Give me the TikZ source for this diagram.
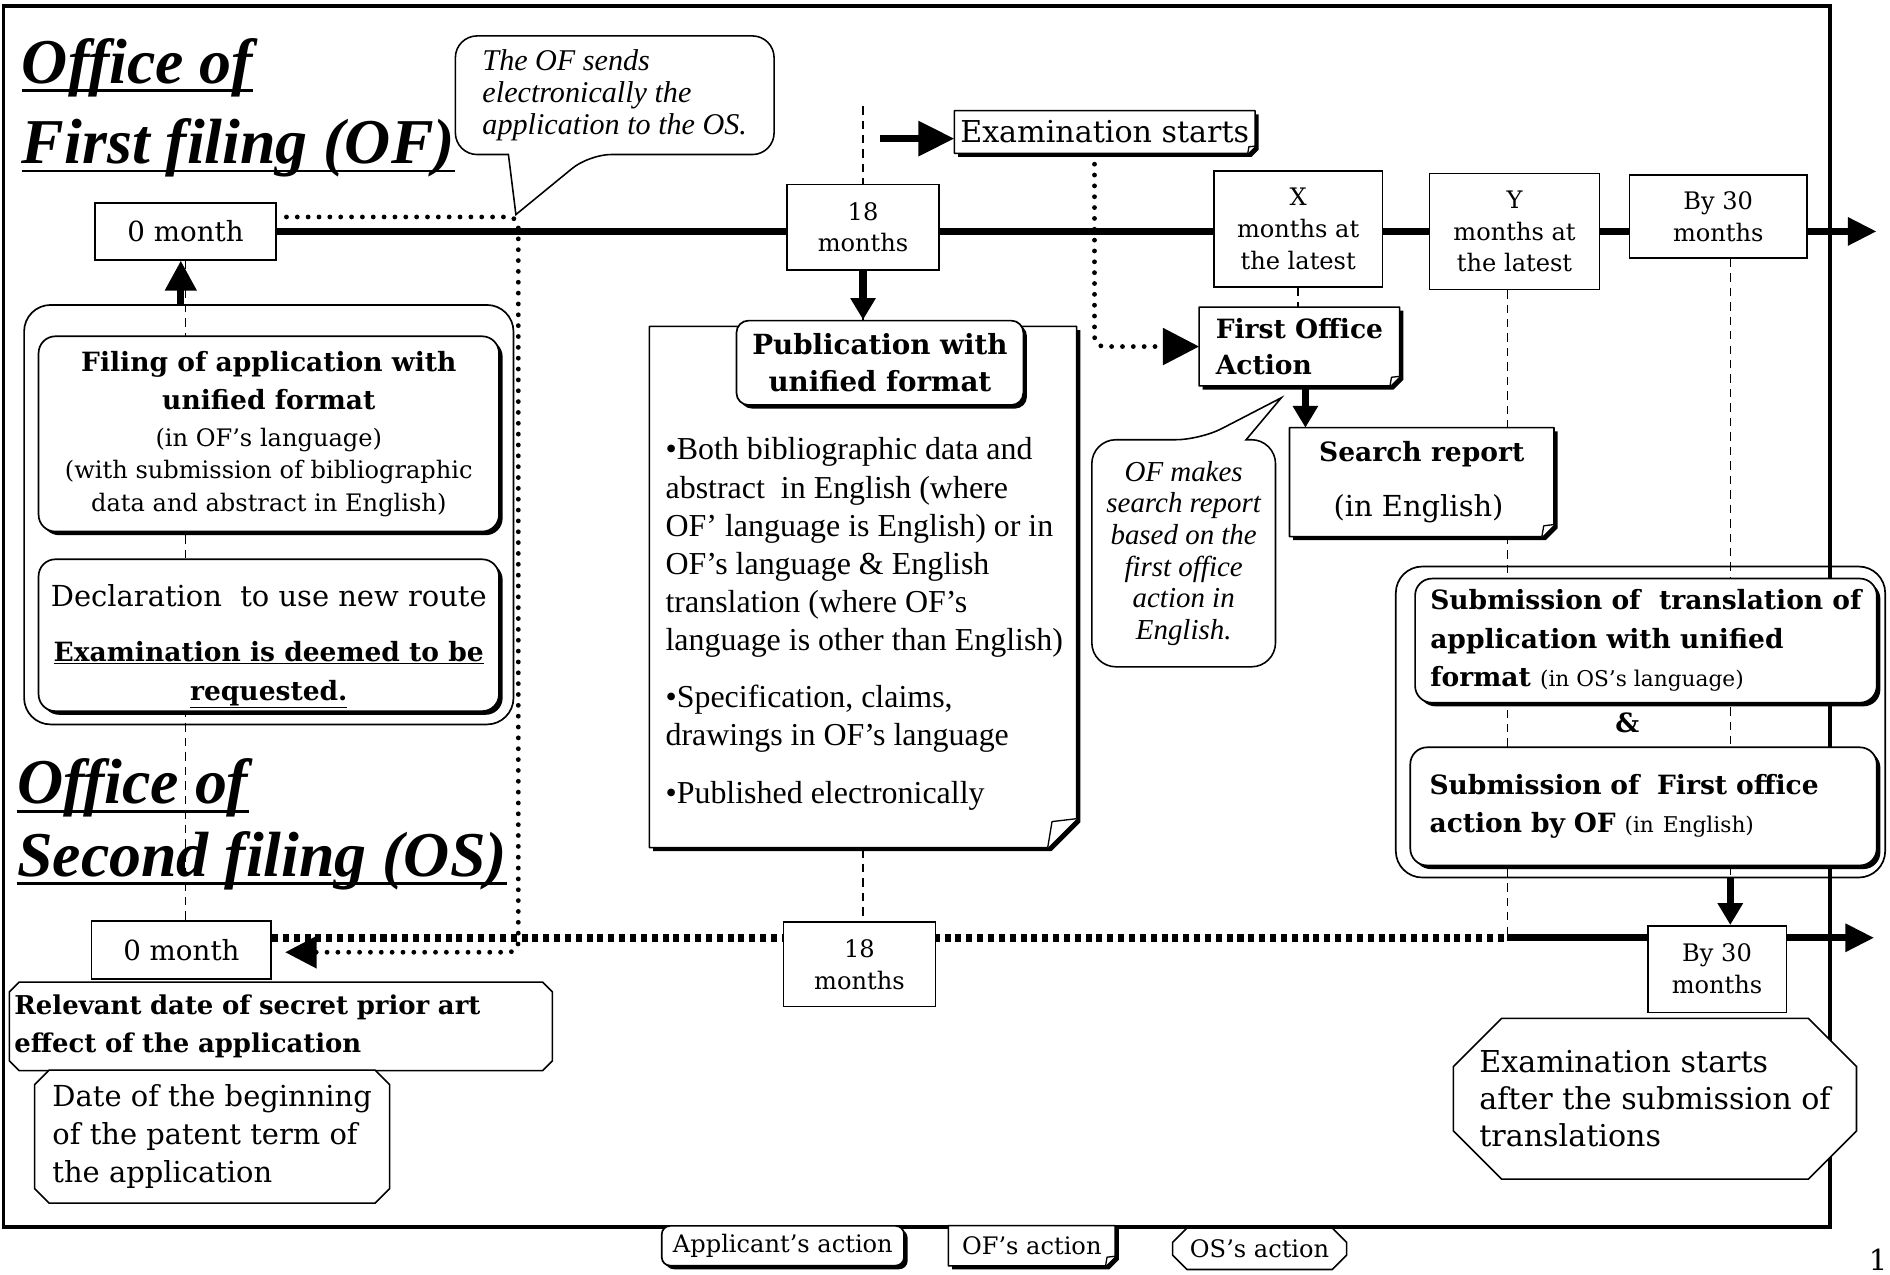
\documentclass[tikz,border=0pt]{standalone}
\usepackage{fontspec}
\setmainfont{DejaVu Serif}
\newfontfamily\tms{Liberation Serif}
\usetikzlibrary{arrows.meta,shadows,calc}
\pgfdeclarelayer{bg}
\pgfdeclarelayer{mid}
\pgfsetlayers{bg,mid,main}
\newcommand\fs[2]{\fontsize{#1}{#2}\selectfont}
\newcommand\ofshape[2]{\begin{pgfonlayer}{mid}
\fill ([shift={(3pt,-3pt)}]#1.north west) -- ([shift={(3pt,-3pt)}]#1.north east) -- ([shift={(3pt,#2-3pt)}]#1.south east) -- ([shift={(3pt-#2,-3pt)}]#1.south east) -- ([shift={(3pt,-3pt)}]#1.south west) -- cycle;
\filldraw[fill=white,line width=1.3pt,line join=round] (#1.north west) -- (#1.north east) -- ([yshift=#2]#1.south east) -- ([xshift=-#2]#1.south east) -- (#1.south west) -- cycle;
\filldraw[fill=white,line width=1.1pt,line join=round] ([xshift=-#2]#1.south east) -- ([shift={(-0.85*#2,0.9*#2)}]#1.south east) -- ([yshift=#2]#1.south east);
\end{pgfonlayer}}
\newcommand\osshape[2]{\begin{pgfonlayer}{mid}
\filldraw[fill=white,line width=1.3pt] ([xshift=#2]#1.north west) -- ([xshift=-#2]#1.north east) -- ([yshift=-#2]#1.north east) -- ([yshift=#2]#1.south east) -- ([xshift=-#2]#1.south east) -- ([xshift=#2]#1.south west) -- ([yshift=#2]#1.south west) -- ([yshift=-#2]#1.north west) -- cycle;
\end{pgfonlayer}}
\begin{document}
\begin{tikzpicture}[x=1pt,y=-1pt,
  every node/.style={inner sep=0pt},
  tbox/.style={draw, line width=1.3pt, fill=white, align=center, font=\fs{20}{26.5}},
  appbox/.style={draw, line width=1.4pt, fill=white, rounded corners=#1, drop shadow={shadow xshift=3pt,shadow yshift=-3pt,fill=black,opacity=1}},
  appbox/.default=14pt,
  grp/.style={draw, line width=1.4pt, rounded corners=22pt},
  titlef/.style={anchor=base west, font=\tms\bfseries\itshape\fs{53}{60}},
  uline/.style={line width=2.2pt},
  bigarrow/.style={line width=6pt, -{Triangle[length=25pt,width=25pt]}},
  midarrow/.style={line width=6pt, -{Triangle[length=18pt,width=20pt]}},
  dots/.style={line width=4pt, line cap=round, dash pattern=on 0pt off 9pt},
  sqdots/.style={line width=7pt, dash pattern=on 5pt off 4pt},
  dashv/.style={line width=1.2pt, dash pattern=on 7pt off 5pt}]
\useasboundingbox (0,0) rectangle (1568,1057);

% ---- timeline boxes (top) ----
\node[tbox, minimum width=150pt, minimum height=47pt, font=\fs{23}{28}] (OF0) at (154,192) {0 month};
\node[tbox, minimum width=126pt, minimum height=71pt] (OF18) at (716,188.5) {18\\months};
\node[tbox, minimum width=140pt, minimum height=96pt] (OFX) at (1077,190) {X\\months at\\the latest};
\node[tbox, minimum width=141pt, minimum height=96pt] (OFY) at (1256.5,192) {Y\\months at\\the latest};
\node[tbox, minimum width=147pt, minimum height=69pt] (OF30) at (1425.5,179.5) {By 30\\months};

\node[minimum width=249pt, minimum height=35pt, font=\fs{25}{30}] (EX) at (916.5,109.5) {Examination starts};
\ofshape{EX}{6pt}

% ---- titles ----
\node[titlef] (T1) at (18,69) {Office of};
\node[titlef] (T2) at (18,136) {First filing (OF)};
\node[titlef] (T3) at (14,667) {Office of};
\node[titlef] (T4) at (14,727) {Second filing (OS)};
\foreach \t in {T1,T2,T3,T4}{\draw[uline] ([yshift=-6pt]\t.base west) -- ([yshift=-6pt]\t.base east);}

% ---- callout 1 ----
\node[minimum width=264pt, minimum height=98pt, align=left, font=\tms\itshape\fs{25}{26.5}] (C1) at (510,79) {The OF sends\\electronically the\\application to the OS.};
\coordinate (tip1) at (428,178);
\begin{pgfonlayer}{mid}
\filldraw[fill=white,line width=1.3pt] ([xshift=44pt]C1.south west) [rounded corners=18pt] -- (C1.south west) -- (C1.north west) -- (C1.north east) -- (C1.south east) -- ([xshift=111pt]C1.south west) [sharp corners] -- (tip1) -- cycle;
\end{pgfonlayer}

% ---- left group ----
\node[grp, minimum width=406pt, minimum height=348pt] (LG) at (223,427) {};
\node[appbox, minimum width=382pt, minimum height=162pt] (LB1) at (223,360) {\begin{minipage}{380pt}\centering\fs{22}{32}\bfseries Filing of application with\\unified format\par\mdseries\fs{20}{27}\vspace{3pt}(in OF’s language)\\(with submission of bibliographic\\data and abstract in English)\end{minipage}};
\node[appbox, minimum width=382pt, minimum height=126pt] (LB2) at (223,527) {\begin{minipage}{380pt}\vspace*{18pt}\centering\fs{24}{30}Declaration~ to use new route\par\vspace{14pt}\fs{22}{32}\bfseries\underline{Examination is deemed to be}\\\underline{requested.}\end{minipage}};

% ---- OS start ----
\node[tbox, minimum width=149pt, minimum height=48pt, font=\fs{23}{28}] (OS0) at (150.5,788) {0 month};
\node[minimum width=450pt, minimum height=73pt, text width=442pt, align=left, font=\fs{21.5}{31}\bfseries] (RD) at (233,851.5) {Relevant date of secret prior art\\effect of the application};
\osshape{RD}{8pt}
\node[minimum width=294pt, minimum height=110pt, align=left, font=\fs{24}{31.5}] (DB) at (176,943) {Date of the beginning\\of the patent term of\\the application};
\osshape{DB}{12pt}

% ---- publication ----
\node[minimum width=354pt, minimum height=432pt] (PD) at (716,487) {};
\ofshape{PD}{24pt}
\node[anchor=north west, align=left, font=\tms\fs{26.5}{31.6}] (PB) at (552,363) {•Both bibliographic data and\\abstract~ in English (where\\OF’ language is English) or in\\OF’s language \& English\\translation (where OF’s\\language is other than English)\\[16pt]•Specification, claims,\\drawings in OF’s language\\[16pt]•Published electronically};
\node[appbox=10pt, minimum width=238pt, minimum height=70pt, align=center, font=\fs{23}{31}\bfseries] (PH) at (730,301) {Publication with\\unified format};

% ---- first office action / search report ----
\node[minimum width=166pt, minimum height=65pt, align=left, font=\fs{22}{30}\bfseries] (FOA) at (1078,287.5) {First Office\\Action};
\ofshape{FOA}{8pt}
\node[minimum width=219pt, minimum height=90pt, align=left, font=\fs{22}{30}] (SR) at (1179.5,400) {\bfseries Search report\\[16pt]\hspace*{12pt}\mdseries\fs{24}{30}(in English)};
\ofshape{SR}{10pt}

\node[minimum width=152pt, minimum height=188pt, align=center, font=\tms\itshape\fs{24}{26.2}] (C2) at (982,459) {OF makes\\search report\\based on the\\first office\\action in\\English.};
\coordinate (tip2) at (1063,330);
\begin{pgfonlayer}{mid}
\filldraw[fill=white,line width=1.3pt] ([xshift=128pt]C2.north west) [rounded corners=20pt] -- (C2.north east) -- (C2.south east) -- (C2.south west) -- (C2.north west) -- ([xshift=90pt]C2.north west) [sharp corners] -- (tip2) -- cycle;
\end{pgfonlayer}

% ---- right group ----
\node[grp, minimum width=406pt, minimum height=258pt] (RG) at (1361,599) {};
\node[appbox, minimum width=383pt, minimum height=103pt, align=left, font=\fs{22}{32}\bfseries] (RB1) at (1365.5,531.5) {Submission of~ translation of\\application with unified\\format {\mdseries\fs{18}{32}(in OS’s language)}};
\node[font=\fs{22}{26}\bfseries] (AMP) at (1350,600) {\&};
\node[appbox, minimum width=387pt, minimum height=98pt, text width=355pt, align=left, font=\fs{22}{32}\bfseries] (RB2) at (1363.5,669) {Submission of~ First office\\action by OF {\mdseries\fs{18}{32}(in English)}};

% ---- bottom timeline boxes ----
\node[tbox, minimum width=126pt, minimum height=70pt] (BT18) at (713,800) {18\\months};
\node[tbox, minimum width=115pt, minimum height=72pt] (BB30) at (1424.5,804) {By 30\\months};
\node[minimum width=334pt, minimum height=133pt, align=left, font=\fs{25}{31}] (EO) at (1373,911.5) {Examination starts\\after the submission of\\translations};
\osshape{EO}{40pt}

% ---- legend ----
\node[appbox=7pt, minimum width=201pt, minimum height=33pt, font=\fs{20}{24}] (LA) at (649.5,1033.5) {Applicant’s action};
\node[minimum width=138pt, minimum height=33pt, font=\fs{20}{24}] (LO) at (856,1033.5) {OF’s action};
\ofshape{LO}{8pt}
\node[minimum width=144pt, minimum height=34pt, font=\fs{20}{24}] (LS) at (1045,1036) {OS’s action};
\osshape{LS}{12pt}
\node[anchor=base east, font=\fs{24}{28}] (PN) at (1566,1054) {1};

% ---- connectors ----
\begin{pgfonlayer}{bg}
\draw[line width=3pt] (3,5) rectangle (1518,1018);
\coordinate (endtop) at (1557,192);
\draw[line width=6pt, -{Triangle[length=24pt,width=22pt]}] (OF0.east) -- (endtop);
\coordinate (dc1) at (430,180);
\coordinate (dc2) at (430,790);
\draw[dots, rounded corners=8pt, -{Triangle[length=26pt,width=26pt]}] ([shift={(8pt,12pt)}]OF0.east) -- (dc1) -- (dc2) -- ([shift={(11pt,-2pt)}]OS0.east);
\coordinate (bl) at ([yshift=10pt]OS0.east);
\coordinate (yb) at ([xshift=-6pt]OFY.south);
\coordinate (ysw) at (yb |- bl);
\draw[sqdots] (bl) -- (ysw);
\coordinate (endbot) at (1555,778);
\draw[line width=6pt, -{Triangle[length=24pt,width=22pt]}] (ysw) -- (endbot);
\draw[dashv] (OF0.south) -- (OF0.south |- OS0.north);
\coordinate (dtop) at (716,88);
\draw[dashv] (dtop) -- (OF18.north);
\draw[dashv] (OF18.south) -- (OF18.south |- BT18.north);
\draw[dashv] (OFX.south) -- (OFX.south |- FOA.north);
\draw[dashv] (yb) -- (ysw);
\coordinate (tb) at ([xshift=10pt]OF30.south);
\draw[dashv] (tb) -- (tb |- RG.south);
\coordinate (exa) at (730,115);
\draw[line width=6pt, -{Triangle[length=30pt,width=28pt]}] (exa) -- (EX.west |- exa);
\coordinate (la) at ([xshift=-4pt]OF0.south);
\draw[bigarrow] (la |- LG.north) -- (la);
\draw[midarrow] (OF18.south) -- (OF18.south |- PH.north);
\coordinate (fa) at ([xshift=5pt]FOA.south);
\draw[midarrow] (fa) -- (fa |- SR.north);
\draw[midarrow] (tb |- RG.south) -- (tb |- BB30.north);
\draw[dots, rounded corners=8pt, -{Triangle[length=30pt,width=30pt]}] ($(EX.south west)!0.466!(EX.south east)$) |- (FOA.west);
\end{pgfonlayer}
\end{tikzpicture}
\end{document}
